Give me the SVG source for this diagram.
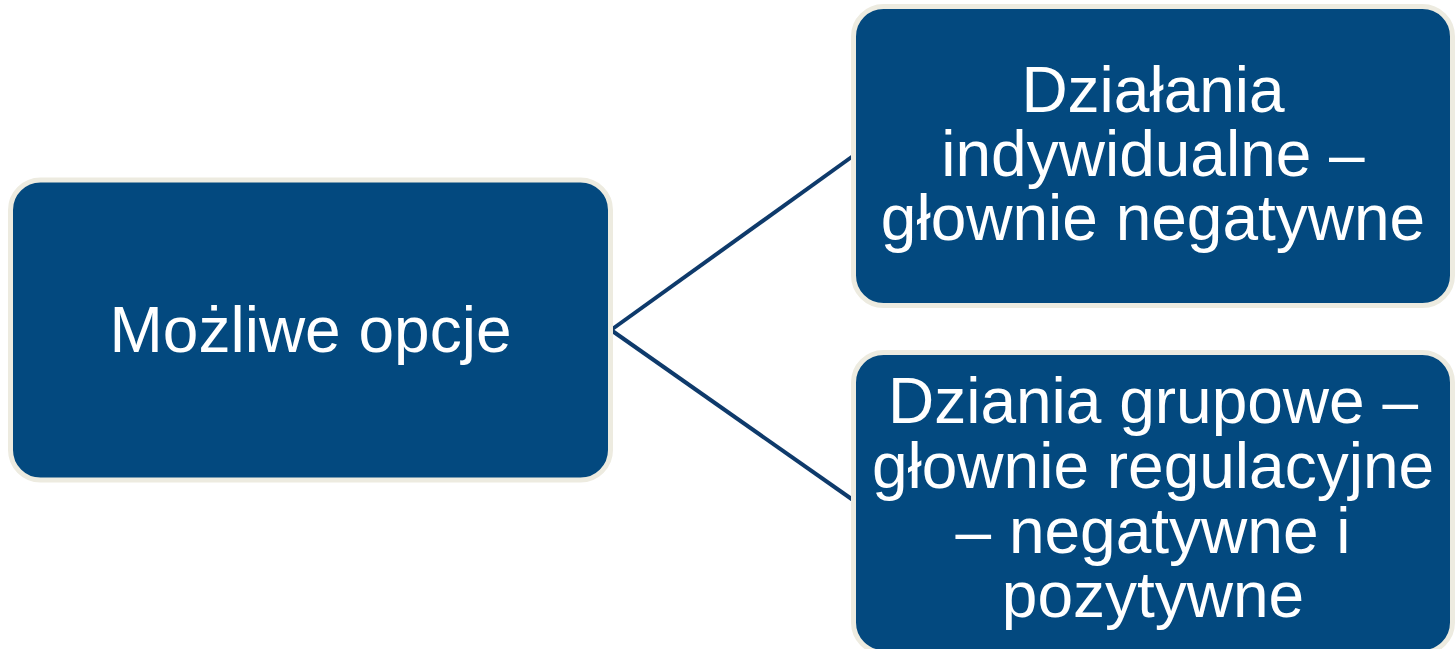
<svg xmlns="http://www.w3.org/2000/svg" width="1456" height="649" viewBox="0 0 1456 649">
<style>
.box{fill:#03497F;stroke:#EDEBE0;stroke-width:5}
.t{font-family:"Liberation Sans",Arial,sans-serif;font-size:64px;fill:#FFFFFF;text-anchor:middle}
.c{stroke:#0E3A6B;stroke-width:4;fill:none}
</style>
<rect width="1456" height="649" fill="#FFFFFF"/>
<g id="connectors">
<line class="c" x1="611" y1="330" x2="853" y2="156"/>
<line class="c" x1="611" y1="330" x2="853" y2="500"/>
</g>
<g id="node-main">
<rect class="box" x="10.5" y="180" width="600" height="300" rx="30"/>
<text class="t" x="310.5" y="352">Możliwe opcje</text>
</g>
<g id="node-individual">
<rect class="box" x="853.5" y="6.5" width="599" height="299" rx="30"/>
<text class="t" x="1153" y="112">Działania</text>
<text class="t" x="1153" y="176">indywidualne –</text>
<text class="t" x="1153" y="240">głownie negatywne</text>
</g>
<g id="node-group">
<rect class="box" x="853.5" y="352.5" width="599" height="300" rx="30"/>
<text class="t" x="1153" y="423">Dziania grupowe –</text>
<text class="t" x="1153" y="488">głownie regulacyjne</text>
<text class="t" x="1153" y="553">– negatywne i</text>
<text class="t" x="1153" y="617">pozytywne</text>
</g>
</svg>
